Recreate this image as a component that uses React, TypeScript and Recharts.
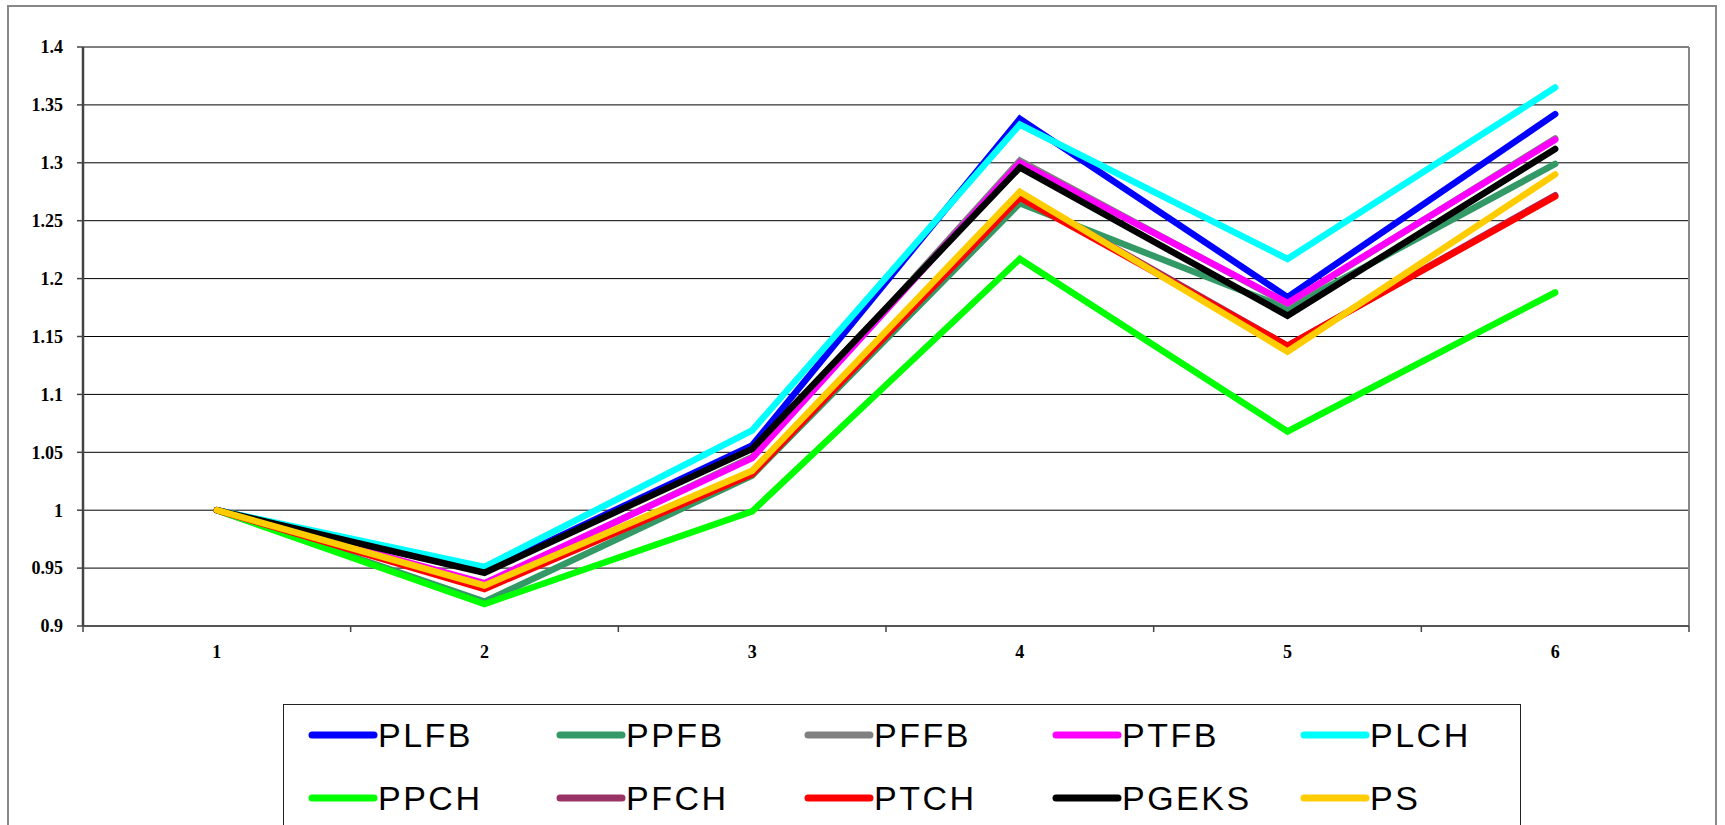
import React from "react";
import { LineChart, Line, XAxis, YAxis, CartesianGrid, ReferenceLine, Legend } from "recharts";

const categories = [1, 2, 3, 4, 5, 6];
const xTickLabels = ["1", "2", "3", "4", "5", "6"];
const yTicks = [0.9, 0.95, 1, 1.05, 1.1, 1.15, 1.2, 1.25, 1.3, 1.35, 1.4];
const yTickLabels = ["0.9", "0.95", "1", "1.05", "1.1", "1.15", "1.2", "1.25", "1.3", "1.35", "1.4"];

const PLFB = [1, 0.947, 1.056, 1.338, 1.184, 1.342];
const PPFB = [1, 0.921, 1.03, 1.265, 1.174, 1.299];
const PFFB = [1, 0.936, 1.046, 1.302, 1.178, 1.321];
const PTFB = [1, 0.937, 1.045, 1.3, 1.179, 1.32];
const PLCH = [1, 0.951, 1.069, 1.333, 1.217, 1.365];
const PPCH = [1, 0.919, 0.999, 1.217, 1.068, 1.188];
const PFCH = [1, 0.933, 1.032, 1.273, 1.142, 1.272];
const PTCH = [1, 0.932, 1.031, 1.27, 1.142, 1.271];
const PGEKS = [1, 0.946, 1.053, 1.296, 1.168, 1.312];
const PS = [1, 0.935, 1.034, 1.275, 1.137, 1.29];

const seriesNames = ["PLFB", "PPFB", "PFFB", "PTFB", "PLCH", "PPCH", "PFCH", "PTCH", "PGEKS", "PS"];
const seriesValues = [PLFB, PPFB, PFFB, PTFB, PLCH, PPCH, PFCH, PTCH, PGEKS, PS];
const seriesColors = ["#0000FF", "#339966", "#808080", "#FF00FF", "#00FFFF", "#00FF00", "#993366", "#FF0000", "#000000", "#FFCC00"];

const data = categories.map((c, i) => {
  const row: Record<string, number> = { x: c };
  seriesNames.forEach((n, k) => {
    row[n] = seriesValues[k][i];
  });
  return row;
});

const xTickPositions = [0.5, 1, 1.5, 2, 2.5, 3, 3.5, 4, 4.5, 5, 5.5, 6, 6.5];

const serif = "'Liberation Serif', 'Times New Roman', serif";
const sans = "'Liberation Sans', Arial, sans-serif";

const XTick = (props: any) => {
  const { x, y, payload } = props;
  const v = payload.value as number;
  if (Number.isInteger(v)) {
    const idx = categories.indexOf(v);
    return (
      <text x={x} y={y + 26} dy="0.35em" textAnchor="middle" fontFamily={serif} fontWeight="bold" fontSize={18} fill="#000">
        {xTickLabels[idx]}
      </text>
    );
  }
  return <line x1={x} y1={y} x2={x} y2={y + 6} stroke="#444" strokeWidth={1.5} />;
};

const LegendBox = () => (
  <div
    style={{
      width: 1238,
      height: 140,
      border: "1.5px solid #222",
      boxSizing: "border-box",
      position: "relative",
      background: "#fff",
    }}
  >
    {seriesNames.map((n, i) => {
      const col = i % 5;
      const row = Math.floor(i / 5);
      const left = 24 + col * 248;
      const top = 30 + row * 63;
      return (
        <div key={n} style={{ position: "absolute", left, top: top - 20, height: 40, display: "flex", alignItems: "center" }}>
          <svg width={70} height={12} style={{ display: "block" }}>
            <line x1={4} y1={6} x2={66} y2={6} stroke={seriesColors[i]} strokeWidth={7} strokeLinecap="round" />
          </svg>
          <span style={{ fontFamily: sans, fontSize: 34, letterSpacing: 2.5, color: "#000", marginLeft: 0, lineHeight: "40px" }}>{n}</span>
        </div>
      );
    })}
  </div>
);

export default function App() {
  return (
    <div style={{ position: "absolute", left: 0, top: 0, width: 1725, height: 825, overflow: "hidden", background: "#fff" }}>
      <div
        style={{
          position: "absolute",
          left: 7,
          top: 5,
          width: 1710,
          height: 840,
          border: "2px solid #888",
          boxSizing: "border-box",
        }}
      />
      <div style={{ position: "absolute", left: 0, top: 0 }}>
        <LineChart width={1725} height={825} data={data} margin={{ top: 47, right: 36, left: 23, bottom: 159 }}>
          <CartesianGrid horizontal={true} vertical={false} stroke="#000" strokeWidth={1} />
          <XAxis
            dataKey="x"
            type="number"
            domain={[0.5, 6.5]}
            ticks={xTickPositions}
            interval={0}
            tick={<XTick />}
            tickLine={false}
            tickSize={0}
            tickMargin={0}
            height={40}
            axisLine={{ stroke: "#555", strokeWidth: 2 }}
            allowDataOverflow
          />
          <YAxis
            type="number"
            domain={[0.9, 1.4]}
            ticks={yTicks}
            interval={0}
            width={60}
            tickSize={6}
            tickMargin={14}
            tickFormatter={(v: number) => yTickLabels[yTicks.indexOf(v)] ?? String(v)}
            tick={{ fontFamily: serif, fontWeight: "bold", fontSize: 18, fill: "#000" }}
            tickLine={{ stroke: "#444", strokeWidth: 1.5 }}
            axisLine={{ stroke: "#444", strokeWidth: 2.5 }}
            allowDataOverflow
          />
          <ReferenceLine x={6.5} stroke="#888" strokeWidth={2} />
          {seriesNames.map((n, i) => (
            <Line
              key={n}
              type="linear"
              dataKey={n}
              stroke={seriesColors[i]}
              strokeWidth={6.5}
              strokeLinecap="round"
              dot={false}
              activeDot={false}
              isAnimationActive={false}
            />
          ))}
          <Legend
            layout="horizontal"
            verticalAlign="middle"
            align="center"
            content={() => <LegendBox />}
            wrapperStyle={{ position: "absolute", left: 283, top: 704, width: 1238, height: 140, margin: 0 }}
          />
        </LineChart>
      </div>
    </div>
  );
}
